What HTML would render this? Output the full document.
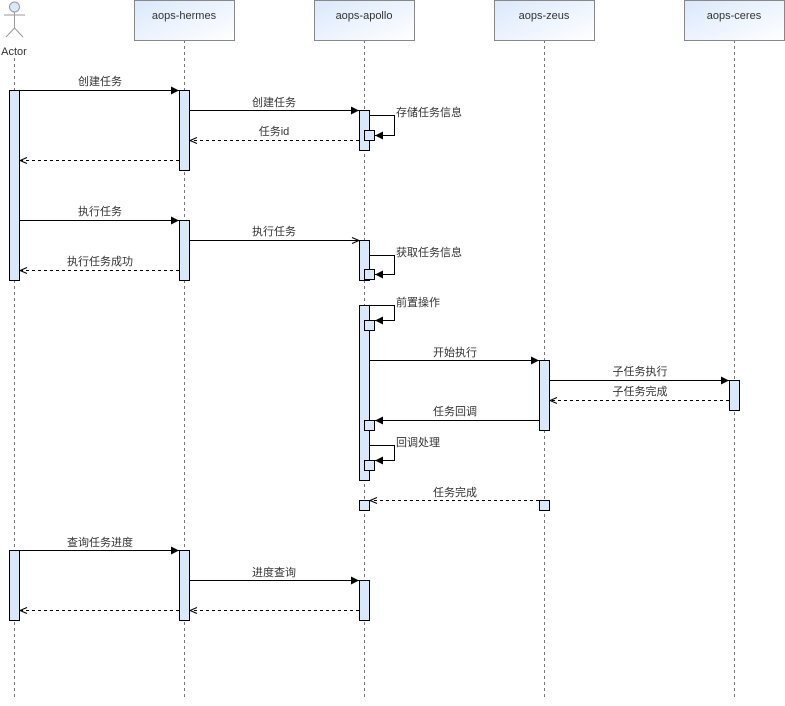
<!DOCTYPE html>
<html><head><meta charset="utf-8"><style>
html,body{margin:0;padding:0;background:#fff;}
svg text{font-family:"Liberation Sans","Noto Sans CJK SC",sans-serif;font-size:11px;fill:#333;}
</style></head><body>
<svg width="785" height="701" viewBox="0 0 785 701" xmlns="http://www.w3.org/2000/svg">
<defs>
<linearGradient id="g" x1="0" y1="0" x2="1" y2="1"><stop offset="0" stop-color="#dae8fc"/><stop offset="1" stop-color="#ffffff"/></linearGradient>
<marker id="f" markerWidth="10" markerHeight="10" refX="9" refY="5" orient="auto" markerUnits="userSpaceOnUse"><path d="M1,1 L9,5 L1,9 Z" fill="#000"/></marker>
<marker id="o" markerWidth="10" markerHeight="10" refX="9" refY="5" orient="auto" markerUnits="userSpaceOnUse"><path d="M2,2 L9,5 L2,8" fill="none" stroke="#000"/></marker>
</defs>
<g stroke="#777" stroke-dasharray="3,3" fill="none">
<line x1="14.5" y1="58" x2="14.5" y2="700"/>
<line x1="184.5" y1="40" x2="184.5" y2="700"/>
<line x1="364.5" y1="40" x2="364.5" y2="700"/>
<line x1="544.5" y1="40" x2="544.5" y2="700"/>
<line x1="734.5" y1="40" x2="734.5" y2="700"/>
</g>
<g stroke="#888" fill="url(#g)">
<rect x="134.5" y="0.5" width="100" height="40"/>
<rect x="314.5" y="0.5" width="100" height="40"/>
<rect x="494.5" y="0.5" width="100" height="40"/>
<rect x="684.5" y="0.5" width="100" height="40"/>
</g>
<g text-anchor="middle"><text x="184" y="19">aops-hermes</text><text x="364" y="19">aops-apollo</text><text x="544" y="19">aops-zeus</text><text x="734" y="19">aops-ceres</text><text x="14" y="55">Actor</text></g>
<g stroke="#999" fill="#dae8fc"><circle cx="14.5" cy="7" r="5"/></g>
<g stroke="#999" fill="none"><line x1="14.5" y1="12" x2="14.5" y2="28"/><line x1="4" y1="15" x2="25" y2="15"/><line x1="14.5" y1="28" x2="6" y2="37"/><line x1="14.5" y1="28" x2="23" y2="37"/></g>
<g stroke="#000" fill="#dae8fc">
<rect x="9.5" y="90.5" width="10" height="190"/>
<rect x="9.5" y="550.5" width="10" height="70"/>
<rect x="179.5" y="90.5" width="10" height="80"/>
<rect x="179.5" y="220.5" width="10" height="60"/>
<rect x="179.5" y="550.5" width="10" height="70"/>
<rect x="359.5" y="110.5" width="10" height="40"/>
<rect x="364.5" y="130.5" width="10" height="10"/>
<rect x="359.5" y="240.5" width="10" height="40"/>
<rect x="364.5" y="269.5" width="10" height="10"/>
<rect x="359.5" y="305.5" width="10" height="175"/>
<rect x="364.5" y="320.5" width="10" height="10"/>
<rect x="364.5" y="420.5" width="10" height="10"/>
<rect x="364.5" y="460.5" width="10" height="10"/>
<rect x="359.5" y="500.5" width="10" height="10"/>
<rect x="359.5" y="580.5" width="10" height="40"/>
<rect x="539.5" y="360.5" width="10" height="70"/>
<rect x="539.5" y="500.5" width="10" height="10"/>
<rect x="729.5" y="380.5" width="10" height="30"/>
</g>
<g stroke="#000" fill="none">
<line x1="19" y1="90.5" x2="179" y2="90.5" marker-end="url(#f)"/>
<line x1="189" y1="110.5" x2="359" y2="110.5" marker-end="url(#f)"/>
<polyline points="369,115.5 394.5,115.5 394.5,135.5 375,135.5" marker-end="url(#f)"/>
<line x1="359" y1="140.5" x2="190" y2="140.5" stroke-dasharray="3,3" marker-end="url(#o)"/>
<line x1="179" y1="160.5" x2="20" y2="160.5" stroke-dasharray="3,3" marker-end="url(#o)"/>
<line x1="19" y1="220.5" x2="179" y2="220.5" marker-end="url(#f)"/>
<line x1="189" y1="240.5" x2="359" y2="240.5" marker-end="url(#o)"/>
<polyline points="369,255.5 394.5,255.5 394.5,274.5 375,274.5" marker-end="url(#f)"/>
<line x1="179" y1="270.5" x2="20" y2="270.5" stroke-dasharray="3,3" marker-end="url(#o)"/>
<polyline points="369,305.5 394.5,305.5 394.5,320.5 375,320.5" marker-end="url(#f)"/>
<line x1="369" y1="360.5" x2="539" y2="360.5" marker-end="url(#f)"/>
<line x1="549" y1="380.5" x2="729" y2="380.5" marker-end="url(#f)"/>
<line x1="729" y1="400.5" x2="550" y2="400.5" stroke-dasharray="3,3" marker-end="url(#o)"/>
<line x1="539" y1="420.5" x2="375" y2="420.5" marker-end="url(#f)"/>
<polyline points="369,445.5 394.5,445.5 394.5,460.5 375,460.5" marker-end="url(#f)"/>
<line x1="539" y1="500.5" x2="370" y2="500.5" stroke-dasharray="3,3" marker-end="url(#o)"/>
<line x1="19" y1="550.5" x2="179" y2="550.5" marker-end="url(#f)"/>
<line x1="189" y1="580.5" x2="359" y2="580.5" marker-end="url(#f)"/>
<line x1="359" y1="610.5" x2="190" y2="610.5" stroke-dasharray="3,3" marker-end="url(#o)"/>
<line x1="179" y1="610.5" x2="20" y2="610.5" stroke-dasharray="3,3" marker-end="url(#o)"/>
</g>
<g text-anchor="middle">
<text x="100" y="85">创建任务</text>
<text x="274" y="106">创建任务</text>
<text x="274" y="135">任务id</text>
<text x="100" y="215">执行任务</text>
<text x="274" y="235">执行任务</text>
<text x="100" y="265">执行任务成功</text>
<text x="455" y="356">开始执行</text>
<text x="640" y="375">子任务执行</text>
<text x="640" y="395">子任务完成</text>
<text x="455" y="415">任务回调</text>
<text x="455" y="496">任务完成</text>
<text x="100" y="546">查询任务进度</text>
<text x="274" y="576">进度查询</text>
</g>
<text x="396" y="116">存储任务信息</text>
<text x="396" y="256">获取任务信息</text>
<text x="396" y="306">前置操作</text>
<text x="396" y="446">回调处理</text>
</svg>
</body></html>
